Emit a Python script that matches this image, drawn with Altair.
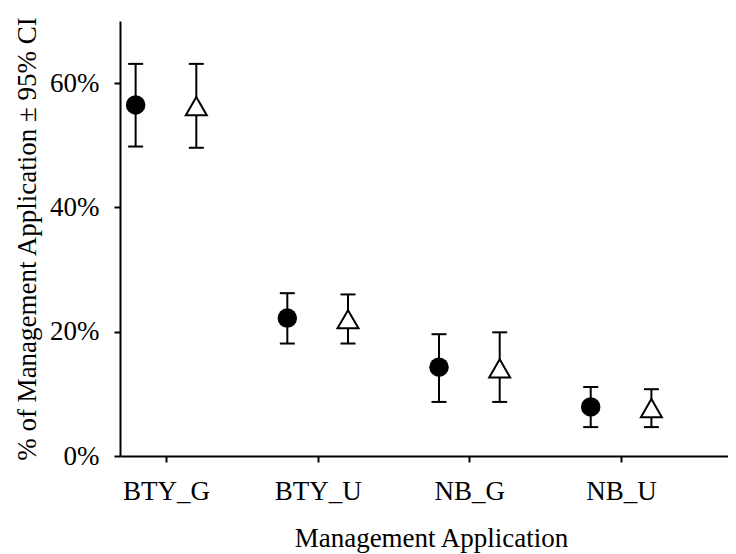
import altair as alt
import pandas as pd

categories = ["BTY_G", "BTY_U", "NB_G", "NB_U"]
series_names = ["A", "B"]

circle_mean = [56.5, 22.2, 14.3, 7.9]
circle_low = [49.8, 18.1, 8.7, 4.65]
circle_high = [63.1, 26.2, 19.6, 11.1]

tri_mean = [56.3, 22.0, 14.1, 7.7]
tri_low = [49.6, 18.1, 8.7, 4.65]
tri_high = [63.1, 26.0, 19.9, 10.75]

rows = []
for i, c in enumerate(categories):
    rows.append({"cat": c, "idx": i, "series": "A",
                 "mean": circle_mean[i] / 100, "low": circle_low[i] / 100, "high": circle_high[i] / 100})
    rows.append({"cat": c, "idx": i, "series": "B",
                 "mean": tri_mean[i] / 100, "low": tri_low[i] / 100, "high": tri_high[i] / 100})
df = pd.DataFrame(rows)

FONT = "Liberation Serif"
FS = 27

label_expr = "[" + ",".join("'%s'" % c for c in categories) + "][datum.value]"

base = alt.Chart(df).transform_calculate(
    pos="datum.idx + (datum.series == 'A' ? -0.2 : 0.2)"
)

x_scale = alt.Scale(domain=[-0.303, 3.705], nice=False, zero=False)
y_scale = alt.Scale(domain=[0, 0.7], nice=False)

x_enc = alt.X(
    "pos:Q",
    scale=x_scale,
    axis=alt.Axis(
        values=[0, 1, 2, 3], labelExpr=label_expr, title="Management Application",
        grid=False, tickSize=6, tickWidth=2, domainWidth=2, domainColor="black", tickColor="black",
        labelFont=FONT, labelFontSize=FS, labelColor="black", labelBaseline="alphabetic",
        labelPadding=37, titleFont=FONT, titleFontSize=FS, titleFontWeight="normal",
        titleColor="black", titleBaseline="alphabetic", titleY=90, titleX=311,
    ),
)

y_axis = alt.Axis(
    values=[0, 0.2, 0.4, 0.6], format=".0%", title="% of Management Application ± 95% CI",
    grid=False, tickSize=6, tickWidth=2, domainWidth=2, domainColor="black", tickColor="black",
    labelFont=FONT, labelFontSize=FS, labelColor="black", labelPadding=15,
    titleFont=FONT, titleFontSize=FS, titleFontWeight="normal", titleColor="black",
    titleBaseline="alphabetic", titleX=-85, titleAngle=-90,
)

rules = base.mark_rule(color="black", strokeWidth=2).encode(
    x=x_enc,
    y=alt.Y("low:Q", scale=y_scale, axis=y_axis),
    y2="high:Q",
)
caps_low = base.mark_tick(orient="horizontal", color="black", size=15, thickness=2, opacity=1).encode(
    x="pos:Q", y="low:Q"
)
caps_high = base.mark_tick(orient="horizontal", color="black", size=15, thickness=2, opacity=1).encode(
    x="pos:Q", y="high:Q"
)
circles = base.transform_filter("datum.series == 'A'").mark_point(
    shape="circle", filled=True, color="black", size=380, opacity=1
).encode(x="pos:Q", y="mean:Q")
triangles = base.transform_filter("datum.series == 'B'").mark_point(
    shape="triangle-up", filled=True, fill="white", stroke="black", strokeWidth=2, size=440, opacity=1
).encode(x="pos:Q", y="mean:Q")

chart = alt.layer(rules, caps_low, caps_high, circles, triangles).properties(
    width=608, height=435,
    background="white",
    autosize=alt.AutoSizeParams(type="none"),
    padding={"left": 112, "top": 13, "right": 0, "bottom": 98},
).configure_axis(grid=False).configure_view(stroke="transparent", strokeWidth=0)

chart.save("out.html", embed_options={"renderer": "svg", "actions": False})
